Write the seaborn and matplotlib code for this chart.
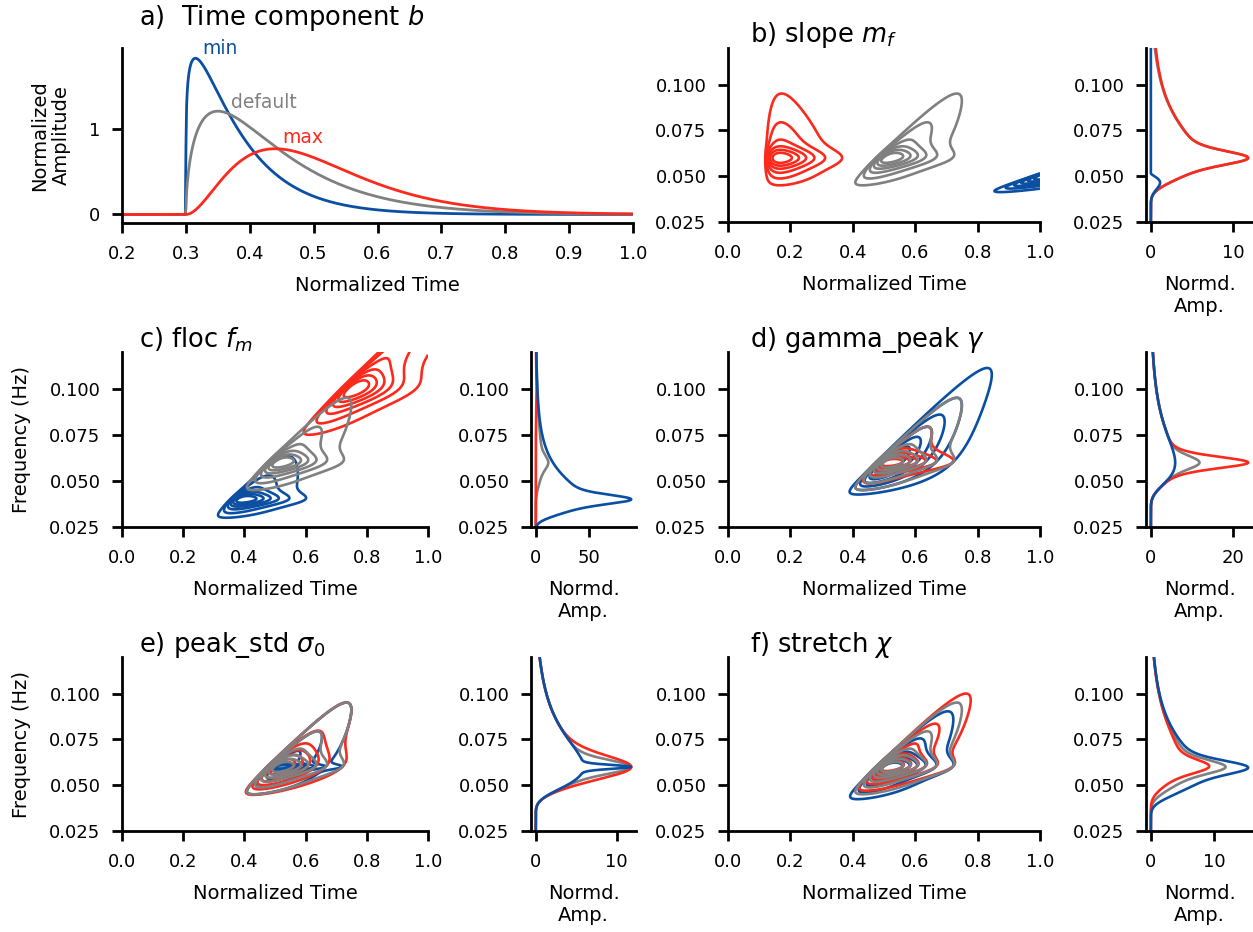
import numpy as np
import pandas as pd
import matplotlib
matplotlib.use("Agg")
import matplotlib.pyplot as plt
import seaborn as sns

# ---- time component b (gamma-shaped pulse starting at the onset) ----
b_onset = 0.3
b_names = ["min", "default", "max"]
b_shape = [1.22, 1.55, 3.0]      # gamma shape k
b_scale = [0.068, 0.091, 0.07]   # gamma scale theta
b_peak = [1.83, 1.21, 0.77]      # peak of the normalized amplitude

# ---- spectral model parameters: [min, default, max] ----
t_source = 0.11                  # dispersion origin (normalized time)
slope_m_f = [0.058, 0.166, 8.0]
floc_f_m = [0.04, 0.06, 0.10]
gamma_peak = [1.0, 2.0, 4.0]
peak_std = [0.02, 0.07, 0.12]
stretch = [0.99, 1.25, 1.5]
pulse_power = 1.5                # energy weighting of the time pulse
default_idx = 1
side_peak_default = 11.8         # normalized amplitude of the default peak

# panel definitions
panels = [
    ("b", "b) slope $m_f$", "slope", [0, 10]),
    ("c", "c) floc $f_m$", "floc", [0, 50]),
    ("d", "d) gamma_peak $\\gamma$", "gamma", [0, 20]),
    ("e", "e) peak_std $\\sigma_0$", "sigma", [0, 10]),
    ("f", "f) stretch $\\chi$", "stretch", [0, 10]),
]
param_lists = {"slope": slope_m_f, "floc": floc_f_m, "gamma": gamma_peak,
               "sigma": peak_std, "stretch": stretch}

colors = {"min": "#0b4fa3", "default": "#808080", "max": "#fb2a1d"}
contour_order = ["min", "max", "default"]
side_order = ["default", "max", "min"]


def pulse(x, k, theta, peak):
    x = np.asarray(x, dtype=float)
    xp = (k - 1.0) * theta
    out = np.zeros_like(x)
    m = x > 0
    out[m] = peak * (x[m] / xp) ** (k - 1.0) * np.exp(-(x[m] - xp) / theta)
    return out


def spectrum(f, fp, gam, sig, beta):
    r = np.exp(-((f - fp) ** 2) / (2.0 * sig ** 2 * fp ** 2))
    return f ** -5.0 * np.exp(-beta * (fp / f) ** 4) * gam ** r


t_grid = np.linspace(0.0, 1.0, 601)
f_grid = np.linspace(0.02, 0.125, 601)
T, F = np.meshgrid(t_grid, f_grid)


def field(slope, fp, gam, sig, beta):
    onset = t_source + F / slope
    b = pulse(T - onset, b_shape[default_idx], b_scale[default_idx], b_peak[default_idx])
    return spectrum(F, fp, gam, sig, beta) * b ** pulse_power


def params(key, idx):
    p = {k: v[default_idx] for k, v in param_lists.items()}
    p[key] = param_lists[key][idx]
    return p


def compute(p):
    E = field(p["slope"], p["floc"], p["gamma"], p["sigma"], p["stretch"])
    side = np.trapezoid(E, t_grid, axis=1)
    return E, side


_, ref_side = compute(params("slope", default_idx))
side_norm = side_peak_default / ref_side.max()

# ---- figure ----
sns.set_theme(style="ticks")
plt.rcParams.update({
    "font.family": ["DejaVu Sans"],
    "axes.linewidth": 2.0,
    "xtick.major.width": 2.0, "ytick.major.width": 2.0,
    "xtick.major.size": 7.5, "ytick.major.size": 7.5,
    "xtick.major.pad": 8, "ytick.major.pad": 8,
    "xtick.labelsize": 13, "ytick.labelsize": 13,
    "axes.labelsize": 14,
    "axes.edgecolor": "black",
    "text.color": "black", "axes.labelcolor": "black",
    "xtick.color": "black", "ytick.color": "black",
    "mathtext.fontset": "dejavusans",
})

W, H = 1253, 932
fig = plt.figure(figsize=(W / 100, H / 100), dpi=100)


def add_ax(left, top, right, bottom):
    return fig.add_axes([left / W, 1 - bottom / H, (right - left) / W, (bottom - top) / H])


# panel a
ax_a = add_ax(122, 48, 633, 223)
t_line = np.linspace(0.2, 1.0, 800)
rows = []
for name, k, th, pk in zip(b_names, b_shape, b_scale, b_peak):
    rows.append(pd.DataFrame({"t": t_line, "amp": pulse(t_line - b_onset, k, th, pk), "case": name}))
df_a = pd.concat(rows)
sns.lineplot(data=df_a, x="t", y="amp", hue="case", palette=colors,
             hue_order=["min", "default", "max"], lw=2, legend=False, ax=ax_a)
ax_a.set_xlim(0.2, 1.0)
ax_a.set_ylim(-0.1, 1.95)
ax_a.set_xticks(np.round(np.arange(0.2, 1.01, 0.1), 1))
ax_a.set_yticks([0, 1])
ax_a.set_xlabel("Normalized Time", labelpad=10)
ax_a.set_ylabel("Normalized\nAmplitude", labelpad=13)
ax_a.text(0.325, 1.94, "min", color=colors["min"], fontsize=13.5, va="center")
ax_a.text(0.37, 1.31, "default", color=colors["default"], fontsize=13.5, va="center")
ax_a.text(0.451, 0.90, "max", color=colors["max"], fontsize=13.5, va="center")
sns.despine(ax=ax_a)
fig.text(139 / W, 1 - 18 / H, "a)  Time component $b$", fontsize=18.5, va="center")

# contour + side panels: main left/right, side left/right, top, bottom, title x/y
layout = {
    "b": (728, 1040, 1146, 1253, 48, 222, 750, 35),
    "c": (122, 428, 531, 636, 352, 527, 139, 340),
    "d": (728, 1040, 1146, 1253, 352, 527, 750, 340),
    "e": (122, 428, 531, 636, 657, 831, 139, 645),
    "f": (728, 1040, 1146, 1253, 657, 831, 750, 645),
}
fticks = [0.025, 0.05, 0.075, 0.1]
level_fracs = np.arange(1, 7) / 7.0
flt_mask = (f_grid >= 0.025) & (f_grid <= 0.12)

for tag, title, key, sticks in panels:
    x0, x1, s0, s1, top, bot, tx, ty = layout[tag]
    ax = add_ax(x0, top, x1, bot)
    axs = add_ax(s0, top, s1, bot)
    results = {}
    for idx, name in enumerate(b_names):
        results[name] = compute(params(key, idx))
    for name in contour_order:
        E, _ = results[name]
        ax.contour(t_grid, f_grid, E, levels=level_fracs * E.max(),
                   colors=[colors[name]], linewidths=1.9)
    side_rows = []
    for name in side_order:
        _, s = results[name]
        side_rows.append(pd.DataFrame({"f": f_grid[flt_mask], "amp": s[flt_mask] * side_norm,
                                       "case": name}))
    df_s = pd.concat(side_rows)
    sns.lineplot(data=df_s, x="amp", y="f", hue="case", palette=colors, hue_order=side_order,
                 orient="y", sort=False, lw=1.9, legend=False, ax=axs)
    for a in (ax, axs):
        a.set_ylim(0.025, 0.12)
        a.set_yticks(fticks)
        a.set_yticklabels([f"{v:.3f}" for v in fticks])
        sns.despine(ax=a)
    ax.set_xlim(0, 1)
    ax.set_xticks(np.round(np.arange(0, 1.01, 0.2), 1))
    ax.set_xlabel("Normalized Time", labelpad=10)
    if tag in ("c", "e"):
        ax.set_ylabel("Frequency (Hz)", labelpad=13)
    else:
        ax.set_ylabel("")
    axs.set_xticks(sticks)
    axs.set_xlabel("Normd.\nAmp.", labelpad=10)
    axs.set_ylabel("")
    fig.text(tx / W, 1 - ty / H, title, fontsize=18.5, va="center")

fig.savefig("out.png", dpi=100)
